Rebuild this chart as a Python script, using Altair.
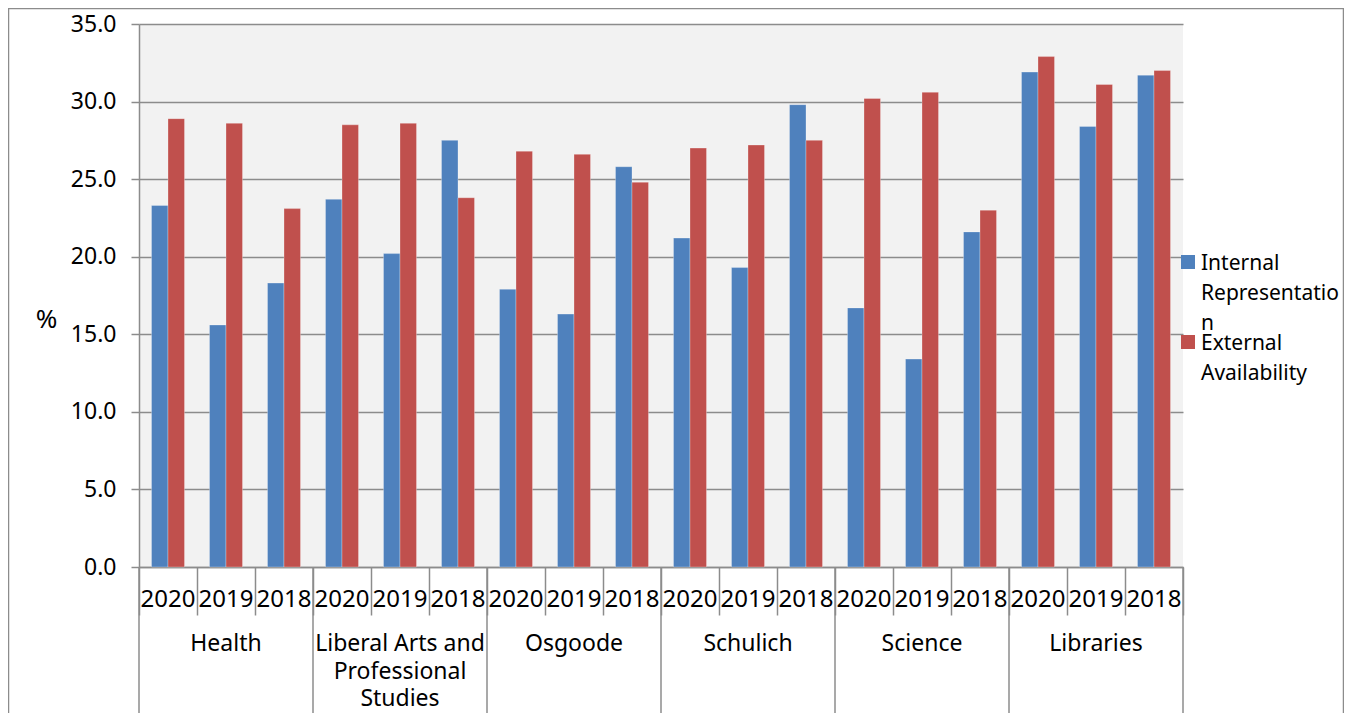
import altair as alt
import pandas as pd

# ---- data ----
faculties = ["Health", "Liberal Arts and Professional Studies", "Osgoode",
             "Schulich", "Science", "Libraries"]
faculty_labels = ["Health", "Liberal Arts and\nProfessional\nStudies", "Osgoode",
                  "Schulich", "Science", "Libraries"]
years = ["2020", "2019", "2018"]
series_names = ["Internal Representation", "External Availability"]
internal = [23.3, 15.6, 18.3, 23.7, 20.2, 27.5, 17.9, 16.3, 25.8,
            21.2, 19.3, 29.8, 16.7, 13.4, 21.6, 31.9, 28.4, 31.7]
external = [28.9, 28.6, 23.1, 28.5, 28.6, 23.8, 26.8, 26.6, 24.8,
            27.0, 27.2, 27.5, 30.2, 30.6, 23.0, 32.9, 31.1, 32.0]
y_ticks = [0, 5, 10, 15, 20, 25, 30, 35]

BLUE = "#4F81BD"
RED = "#C0504D"
GRAY = "#8C8C8C"
FONT = "Noto Sans"

# ---- tables ----
slots = [f"{f}|{y}" for f in faculties for y in years]
rows = []
for i, s in enumerate(slots):
    rows.append({"slot": s, "series": series_names[0], "value": internal[i]})
    rows.append({"slot": s, "series": series_names[1], "value": external[i]})
bars_df = pd.DataFrame(rows)
slot_df = pd.DataFrame({"slot": slots, "year": [s.split("|")[1] for s in slots]})
group_df = pd.DataFrame({"slot": [f"{f}|{years[1]}" for f in faculties],
                         "label": faculty_labels})
group_start_df = pd.DataFrame({"slot": [f"{f}|{years[0]}" for f in faculties]})
group_end_df = pd.DataFrame({"slot": [slots[-1]]})

W, H = 1044, 543

xscale = alt.Scale(paddingInner=0, paddingOuter=0)
xaxis = alt.Axis(labels=False, title=None, tickBand="extent", tickSize=48,
                 tickColor=GRAY, tickWidth=1.5, domainColor=GRAY,
                 domainWidth=1.5, grid=False)


def X(band=None):
    if band is None:
        return alt.X("slot:N", sort=slots, scale=xscale, axis=xaxis)
    return alt.X("slot:N", sort=slots, scale=xscale, axis=xaxis, bandPosition=band)


yaxis = alt.Axis(values=y_ticks, format=".1f", labelFontSize=23,
                 labelColor="black", labelFont=FONT, labelPadding=15,
                 tickSize=8, tickColor=GRAY, tickWidth=1.5,
                 domainColor=GRAY, domainWidth=1.5,
                 gridColor=GRAY, gridWidth=1.5,
                 title="%", titleAngle=0, titleX=-93, titleY=295,
                 titleFontSize=26, titleFontWeight="normal", titleFont=FONT,
                 titleColor="black", titleAlign="center", titleBaseline="middle")

border = alt.Chart(slot_df.head(1)).mark_rect(
    fillOpacity=0, stroke=GRAY, strokeWidth=1.5
).encode(x=alt.value(-130.5), x2=alt.value(1204.5),
         y=alt.value(-15.5), y2=alt.value(720))

bars = alt.Chart(bars_df).mark_bar(
    stroke="#FFFFFF", strokeWidth=0.8, strokeOpacity=0.35
).encode(
    x=X(),
    xOffset=alt.XOffset("series:N", sort=series_names,
                        scale=alt.Scale(paddingInner=0, paddingOuter=0.758)),
    y=alt.Y("value:Q", scale=alt.Scale(domain=[0, 35], nice=False), axis=yaxis),
    color=alt.Color("series:N", sort=series_names,
                    scale=alt.Scale(domain=series_names, range=[BLUE, RED]),
                    legend=None),
)

year_text = alt.Chart(slot_df).mark_text(
    font=FONT, fontSize=24, color="black", baseline="top", align="center"
).encode(x=X(), y=alt.value(564), text="year:N")

group_text = alt.Chart(group_df).mark_text(
    font=FONT, fontSize=23, color="black", baseline="top", align="center",
    lineBreak="\n", lineHeight=27.5
).encode(x=X(), y=alt.value(609), text="label:N")

group_rules = alt.Chart(group_start_df).mark_rule(
    color=GRAY, strokeWidth=1.5
).encode(x=X(0), y=alt.value(H), y2=alt.value(720))

end_rule = alt.Chart(group_end_df).mark_rule(
    color=GRAY, strokeWidth=1.5
).encode(x=X(1), y=alt.value(H), y2=alt.value(720))

# ---- legend (drawn manually to keep the wrapped labels) ----
leg_blue = alt.Chart(slot_df.head(1)).mark_rect(color=BLUE).encode(
    x=alt.value(1042), x2=alt.value(1056), y=alt.value(231), y2=alt.value(245))
leg_red = alt.Chart(slot_df.head(1)).mark_rect(color=RED).encode(
    x=alt.value(1042), x2=alt.value(1056), y=alt.value(311), y2=alt.value(325))
leg_text_blue = alt.Chart(slot_df.head(1)).mark_text(
    font=FONT, fontSize=21, color="black", baseline="top", align="left",
    lineBreak="\n", lineHeight=30,
    text="Internal\nRepresentatio\nn"
).encode(x=alt.value(1062), y=alt.value(228.5))
leg_text_red = alt.Chart(slot_df.head(1)).mark_text(
    font=FONT, fontSize=21, color="black", baseline="top", align="left",
    lineBreak="\n", lineHeight=30,
    text="External\nAvailability"
).encode(x=alt.value(1062), y=alt.value(308.5))

chart = alt.layer(
    border, bars, year_text, group_text, group_rules, end_rule,
    leg_blue, leg_red, leg_text_blue, leg_text_red
).properties(
    width=W, height=H,
    padding={"left": 131, "top": 16, "right": 161, "bottom": 146},
    autosize=alt.AutoSizeParams(type="none"),
    background="white",
).configure_view(fill="#F2F2F2", strokeWidth=0)

chart.save("out.html", embed_options={"renderer": "svg", "actions": False})
